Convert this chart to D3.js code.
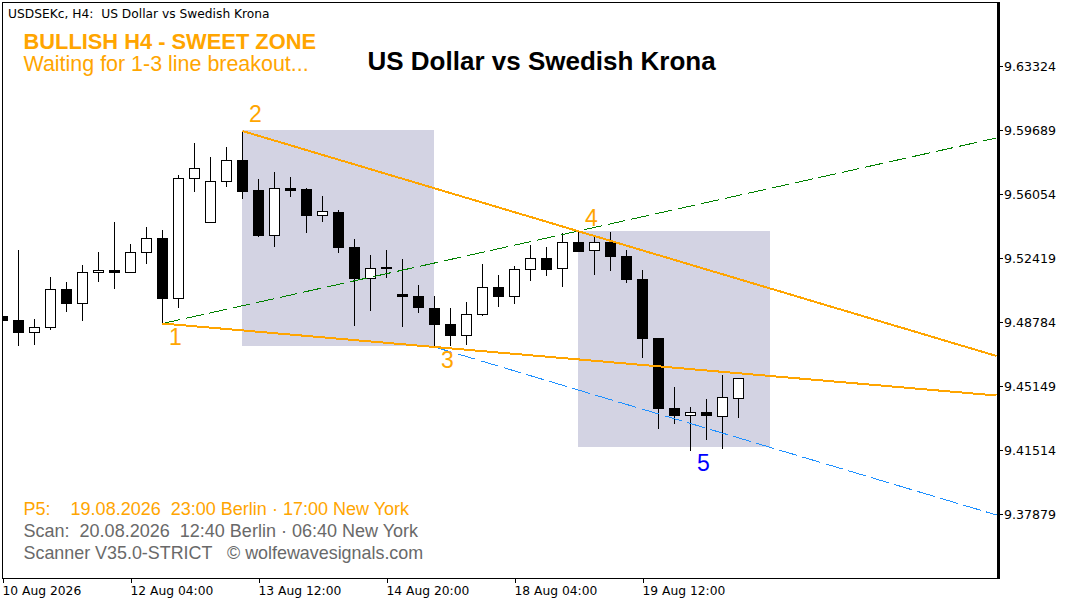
<!DOCTYPE html>
<html><head><meta charset="utf-8">
<style>html,body{margin:0;padding:0;background:#fff}svg{display:block}text{white-space:pre}</style>
<script src="https://cdn.jsdelivr.net/npm/d3@7"></script>
</head><body><svg id="c" width="1076" height="605"></svg>
<script>
const opens  = [9.49152,9.48908,9.48204,9.48488,9.50686,9.49851,9.51612,9.51765,9.51612,9.52748,9.53583,9.50135,9.56951,9.54452,9.56780,9.58013,9.56309,9.53696,9.56423,9.56366,9.54832,9.55059,9.53071,9.51254,9.51935,9.50402,9.50288,9.49607,9.48698,9.48016,9.49209,9.50799,9.50231,9.51765,9.52447,9.51822,9.53355,9.52844,9.53355,9.52560,9.51254,9.47903,9.43927,9.43472,9.43699,9.43415,9.44438];
const highs  = [9.49152,9.52901,9.48965,9.51367,9.51083,9.52049,9.52787,9.54491,9.53242,9.54207,9.54037,9.57161,9.58979,9.58183,9.58751,9.59603,9.56934,9.57331,9.57047,9.56423,9.55968,9.55173,9.53526,9.52617,9.52901,9.52390,9.50913,9.50288,9.49607,9.49947,9.52106,9.51481,9.51992,9.53185,9.53071,9.53867,9.54037,9.53639,9.53923,9.52901,9.51765,9.47903,9.45119,9.43983,9.44438,9.45801,9.45631];
const lows   = [9.48885,9.47448,9.47505,9.48357,9.49379,9.48868,9.51083,9.50686,9.51612,9.52106,9.48698,9.49607,9.56195,9.54452,9.56479,9.55798,9.53639,9.53071,9.55911,9.53867,9.54491,9.52731,9.48584,9.49436,9.51311,9.48527,9.49323,9.47391,9.47448,9.47505,9.49152,9.49663,9.49834,9.51140,9.51424,9.50799,9.52787,9.51481,9.51708,9.51027,9.46767,9.42734,9.43018,9.41484,9.42109,9.41598,9.43359];
const closes = [9.48885,9.48204,9.48510,9.50669,9.49851,9.51634,9.51765,9.51612,9.52770,9.53566,9.50118,9.56974,9.57542,9.56803,9.57996,9.56195,9.53696,9.56406,9.56269,9.54832,9.55116,9.53015,9.51254,9.51879,9.51822,9.50231,9.49607,9.48641,9.48016,9.49266,9.50799,9.50231,9.51822,9.52447,9.51765,9.53355,9.52787,9.53355,9.52503,9.51197,9.47846,9.43870,9.43472,9.43699,9.43472,9.44551,9.45631];

const priceTicks = [9.63324,9.59689,9.56054,9.52419,9.48784,9.45149,9.41514,9.37879];
const timeTickBars = [0,8,16,24,32,40];
const timeTickLabels = ["10 Aug 2026","12 Aug 04:00","13 Aug 12:00","14 Aug 20:00","18 Aug 04:00","19 Aug 12:00"];

const lastBar = 62.125;
const zones = [[15,27,9.59717,9.47448],[36,48,9.53980,9.41711]];
const upperLine = [[15,9.59660],[lastBar,9.46880]];
const lowerLine = [[10,9.48726],[lastBar,9.44636]];
const greenLine = [[10,9.48726],[lastBar,9.59263]];
const blueLine  = [[27,9.47391],[lastBar,9.37849]];
const pivotNames = ["1","2","3","4","5"];
const pivotBars  = [10,15,27,36,43];
const pivotPrices= [9.48726,9.59660,9.47391,9.53980,9.41484];
const pivotOffsets = [[13,21],[13,-9],[13,21],[13,-5],[13,20]];
const pivotColors = ["#FFA500","#FFA500","#FFA500","#FFA500","#0000FF"];

const svg = d3.select("#c");
const L=2.5,R=998,T=2.5,B=578.5;
const x = d3.scaleLinear().domain([0,lastBar]).range([2.5,996.5]);
const y = d3.scaleLinear().domain([9.67101-0.000568*T,9.67101-0.000568*B]).range([T,B]);
const sans = "'Liberation Sans',Arial,sans-serif";
const ui = "'DejaVu Sans',sans-serif";

svg.append("defs").append("clipPath").attr("id","plot").append("rect").attr("x",3).attr("y",3).attr("width",994).attr("height",575);
const plot = svg.append("g").attr("clip-path","url(#plot)");

plot.selectAll("rect.zone").data(zones).join("rect").attr("class","zone")
  .attr("x",d=>Math.floor(x(d[0]))).attr("width",d=>x(d[1])-x(d[0]))
  .attr("y",d=>Math.round(y(d[2]))).attr("height",d=>y(d[3])-y(d[2]))
  .attr("fill","#D3D3E3");

const bars = plot.selectAll("g.bar").data(opens.map((o,i)=>({i,o,h:highs[i],l:lows[i],c:closes[i]}))).join("g").attr("class","bar").attr("shape-rendering","crispEdges");
bars.append("line")
  .attr("x1",d=>x(d.i)).attr("x2",d=>x(d.i))
  .attr("y1",d=>Math.round(y(d.h))).attr("y2",d=>Math.round(y(d.l)))
  .attr("stroke","#000");
bars.append("rect")
  .attr("x",d=>x(d.i)-5).attr("width",10)
  .attr("y",d=>Math.round(y(Math.max(d.o,d.c)))+.5)
  .attr("height",d=>Math.max(1,Math.round(y(Math.min(d.o,d.c)))-Math.round(y(Math.max(d.o,d.c)))-1))
  .attr("fill",d=>d.c>d.o?"#fff":"#000").attr("stroke","#000");

const line = d3.line().x(d=>x(d[0])).y(d=>y(d[1]));
[[greenLine,"#008000",1,"18 6"],[blueLine,"#1E90FF",1,"18 6"],[upperLine,"#FFA500",2,null],[lowerLine,"#FFA500",2,null]].forEach(([pts,col,w,dash])=>{
  plot.append("path").attr("d",line(pts)).attr("fill","none").attr("stroke",col).attr("stroke-width",w)
    .attr("stroke-dasharray",dash).attr("shape-rendering","crispEdges");
});

pivotNames.forEach((n,i)=>{
  plot.append("text").attr("x",x(pivotBars[i])+pivotOffsets[i][0]).attr("y",y(pivotPrices[i])+pivotOffsets[i][1])
    .attr("text-anchor","middle").attr("font-family",sans).attr("font-size",23).attr("fill",pivotColors[i]).text(n);
});

// frame
const frame = svg.append("g").attr("shape-rendering","crispEdges");
frame.append("line").attr("x1",2).attr("x2",1000).attr("y1",2.5).attr("y2",2.5).attr("stroke","#000");
frame.append("line").attr("x1",2.5).attr("x2",2.5).attr("y1",2).attr("y2",579).attr("stroke","#000");
frame.append("line").attr("x1",2).attr("x2",1000).attr("y1",578.5).attr("y2",578.5).attr("stroke","#000");
frame.append("line").attr("x1",998.5).attr("x2",998.5).attr("y1",2).attr("y2",579).attr("stroke","#000").attr("stroke-width",3);

// axes
const yAxis = d3.axisRight(y).tickValues(priceTicks).tickFormat(d3.format(".5f")).tickSize(3).tickPadding(1);
const gy = svg.append("g").attr("transform","translate(1000,0)").call(yAxis);
gy.select(".domain").remove();
gy.selectAll("line").attr("shape-rendering","crispEdges").attr("stroke","#000");
gy.selectAll("text").attr("font-family",ui).attr("font-size",12.6).attr("fill","#000");

const xAxis = d3.axisBottom(x).tickValues(timeTickBars).tickFormat((d,i)=>timeTickLabels[i]).tickSize(4).tickPadding(3);
const gx = svg.append("g").attr("transform","translate(0,579)").call(xAxis);
gx.select(".domain").remove();
gx.selectAll("line").attr("shape-rendering","crispEdges").attr("stroke","#000");
gx.selectAll("text").attr("text-anchor","start").attr("dx",-0.5).attr("font-family",ui).attr("font-size",12.3).attr("fill","#000");

// text
function t(s,px,py,size,col,bold,fam){
  svg.append("text").attr("x",px).attr("y",py).attr("font-family",fam||sans).attr("font-size",size)
    .attr("font-weight",bold?"bold":"normal").attr("fill",col).text(s);
}
t("USDSEKc, H4:  US Dollar vs Swedish Krona",8,17.5,12.25,"#000",false,ui);
t("BULLISH H4 - SWEET ZONE",23.5,49,21.85,"#FFA500",true);
t("Waiting for 1-3 line breakout...",23.5,71,21.45,"#FFA500",false);
t("US Dollar vs Swedish Krona",367.5,69.5,26,"#000",true);
t("P5:    19.08.2026  23:00 Berlin · 17:00 New York",23.5,515,18.03,"#FFA500",false);
t("Scan:  20.08.2026  12:40 Berlin · 06:40 New York",23.5,537,18.03,"#696969",false);
t("Scanner V35.0-STRICT   © wolfewavesignals.com",23.5,559,17.9,"#696969",false);
</script></body></html>
